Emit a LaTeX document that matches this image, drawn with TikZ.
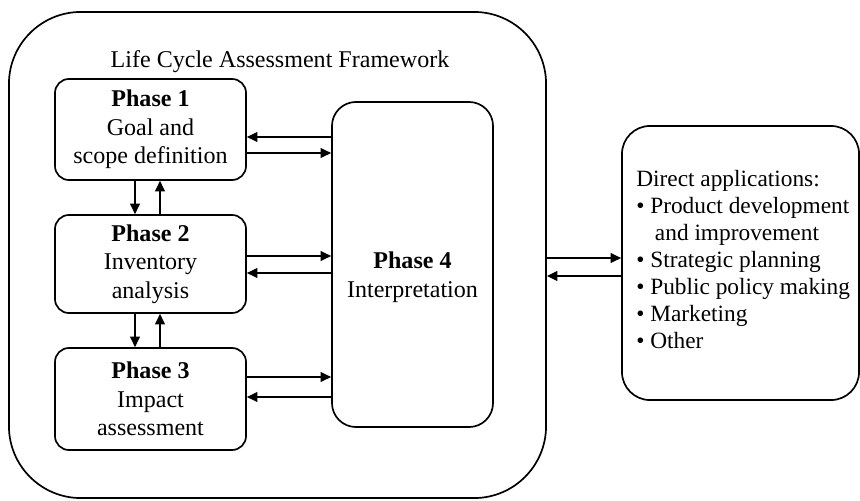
\documentclass[tikz,border=0pt]{standalone}
\usepackage{fontspec}
\setmainfont{Liberation Serif}
\usetikzlibrary{arrows.meta}
\begin{document}
\begin{tikzpicture}[x=0.025cm,y=-0.025cm,
  every node/.style={font=\fontsize{17.1}{20.3}\selectfont},
  box/.style={draw, line width=1.2pt, inner sep=0pt, align=center},
  arr/.style={-{Triangle[length=7.5pt,width=7pt]}, line width=1.1pt}]
\useasboundingbox (0,0) rectangle (860,500);
% outer framework
\node[box, rounded corners=1.8cm, minimum width=13.425cm, minimum height=12.15cm] (outer) at (277.5,255) {};
\node (title) at (280,62) {Life Cycle Assessment Framework};
% phases
\node[box, rounded corners=0.35cm, minimum width=4.775cm, minimum height=2.525cm] (p1) at (150.5,129.5)
  {\textbf{Phase 1}\\Goal and\\scope definition};
\node[box, rounded corners=0.35cm, minimum width=4.775cm, minimum height=2.45cm] (p2) at (150.5,264)
  {\textbf{Phase 2}\\Inventory\\analysis};
\node[box, rounded corners=0.35cm, minimum width=4.775cm, minimum height=2.55cm] (p3) at (150.5,399)
  {\textbf{Phase 3}\\Impact\\assessment};
\node[box, rounded corners=0.6cm, minimum width=4.025cm, minimum height=8.125cm] (p4) at (412.5,264.5) {};
\node[align=center] (p4t) at (412.5,277) {\textbf{Phase 4}\\Interpretation};
% applications
\node[box, rounded corners=0.7cm, minimum width=5.925cm, minimum height=6.85cm] (apps) at (740.5,263) {};
\node[align=left, anchor=west, inner sep=0pt, font=\fontsize{16.6}{19.2}\selectfont] (appst) at (636,260)
  {Direct applications:\\• Product development\\\hspace*{0.8em}and improvement\\• Strategic planning\\• Public policy making\\• Marketing\\• Other};
% arrows phase 1 <-> 4
\draw[arr] (p4.west |- 0,137) -- (p1.east |- 0,137);
\draw[arr] (p1.east |- 0,153) -- (p4.west |- 0,153);
% phase 2 <-> 4
\draw[arr] (p2.east |- 0,256) -- (p4.west |- 0,256);
\draw[arr] (p4.west |- 0,273) -- (p2.east |- 0,273);
% phase 3 <-> 4
\draw[arr] (p3.east |- 0,377) -- (p4.west |- 0,377);
\draw[arr] (p4.west |- 0,397) -- (p3.east |- 0,397);
% vertical arrows
\draw[arr] (p1.south -| 135,0) -- (p2.north -| 135,0);
\draw[arr] (p2.north -| 160,0) -- (p1.south -| 160,0);
\draw[arr] (p2.south -| 135,0) -- (p3.north -| 135,0);
\draw[arr] (p3.north -| 160,0) -- (p2.south -| 160,0);
% framework <-> applications
\draw[arr] (outer.east |- 0,258) -- (apps.west |- 0,258);
\draw[arr] (apps.west |- 0,276) -- (outer.east |- 0,276);
\end{tikzpicture}
\end{document}
